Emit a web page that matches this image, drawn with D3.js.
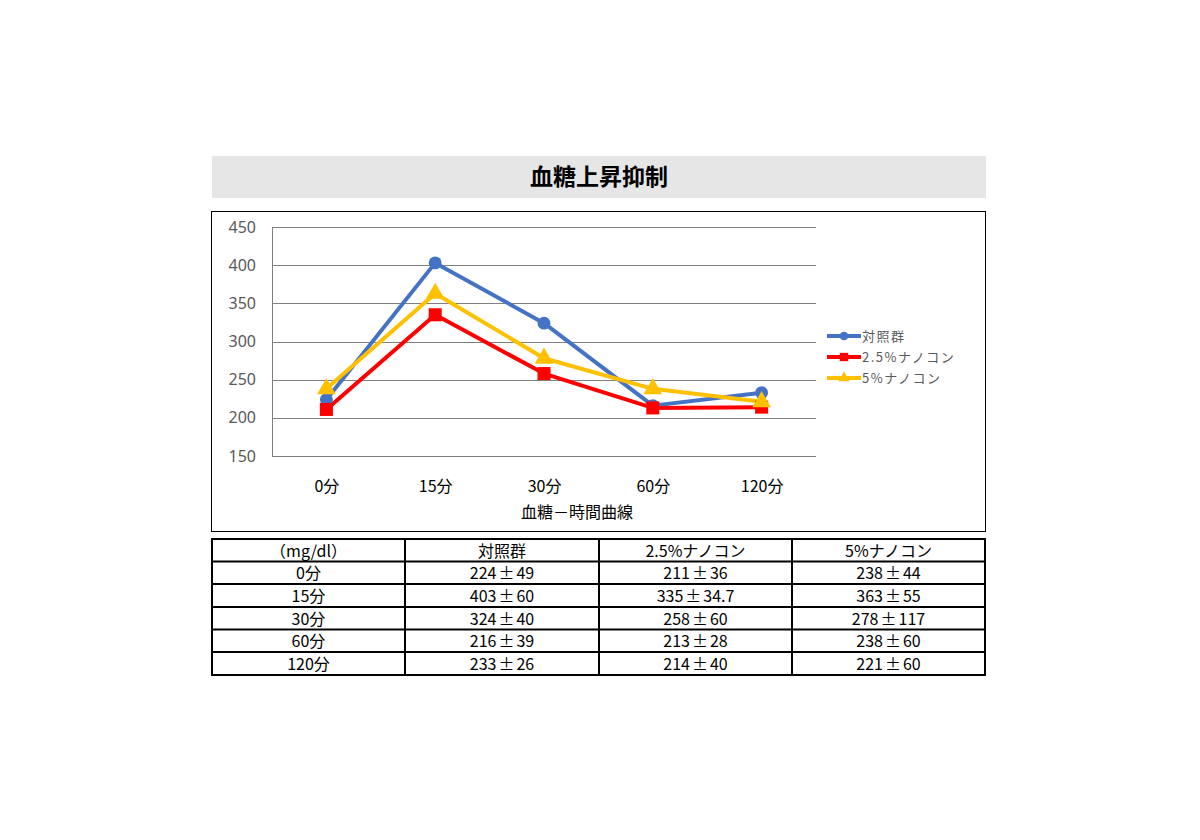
<!DOCTYPE html>
<html><head><meta charset="utf-8">
<script src="https://cdn.jsdelivr.net/npm/d3@7"></script>
<style>body{margin:0;background:#fff;} text{font-family:"Noto Sans CJK JP","Noto Sans",sans-serif;}</style>
</head><body>
<svg id="c" width="1200" height="840"></svg>
<script>
const categories = ["0分","15分","30分","60分","120分"];
const seriesNames = ["対照群","2.5%ナノコン","5%ナノコン"];
const controlMean = [224,403,324,216,233];
const controlSD = ["49","60","40","39","26"];
const nano25Mean = [211,335,258,213,214];
const nano25SD = ["36","34.7","60","28","40"];
const nano5Mean = [238,363,278,238,221];
const nano5SD = ["44","55","117","60","60"];
const yTicks = [150,200,250,300,350,400,450];
const title = "血糖上昇抑制";
const xTitle = "血糖－時間曲線";
const unitLabel = "（mg/dl）";

const colors = ["#4472C4","#FF0000","#FFC000"];
const shapes = [d3.symbolCircle, d3.symbolSquare, d3.symbolTriangle];
const means = [controlMean, nano25Mean, nano5Mean];
const sds = [controlSD, nano25SD, nano5SD];

const svg = d3.select("#c");
// title box
svg.append("rect").attr("x",212).attr("y",156).attr("width",774).attr("height",42).attr("fill","#e6e6e6");
svg.append("text").attr("x",599).attr("y",177).attr("dy","0.35em").attr("text-anchor","middle")
  .attr("font-size",23).attr("font-weight","bold").attr("fill","#000").text(title);
// chart frame
svg.append("rect").attr("x",211.5).attr("y",211.5).attr("width",774).attr("height",320).attr("fill","none").attr("stroke","#000").attr("stroke-width",1);

const x = d3.scalePoint().domain(categories).range([272,816]).padding(0.5);
const y = d3.scaleLinear().domain([150,450]).range([456,227]);

// gridlines
const g = svg.append("g");
g.selectAll("line.grid").data(yTicks).join("line")
  .attr("x1",272).attr("x2",816).attr("y1",d=>Math.round(y(d))+0.5).attr("y2",d=>Math.round(y(d))+0.5)
  .attr("stroke","#808080").attr("stroke-width",1);
g.append("line").attr("x1",272.5).attr("x2",272.5).attr("y1",y(450)).attr("y2",y(150)+0.5).attr("stroke","#808080");

// y axis labels
const yAxis = d3.axisLeft(y).tickValues(yTicks).tickSize(0).tickPadding(0);
const ya = svg.append("g").attr("transform","translate(256,0)").call(yAxis);
ya.select(".domain").remove();
ya.selectAll("text").attr("font-size",16).attr("fill","#595959").style("font-family","'Noto Sans','DejaVu Sans',sans-serif");

// x axis labels
const xAxis = d3.axisBottom(x).tickSize(0).tickPadding(0);
const xa = svg.append("g").attr("transform","translate(0,481)").call(xAxis);
xa.select(".domain").remove();
xa.selectAll("text").attr("font-size",16).attr("fill","#000");

svg.append("text").attr("x",577).attr("y",512).attr("dy","0.35em").attr("text-anchor","middle")
  .attr("font-size",16).attr("fill","#000").text(xTitle);

// series
const line = d3.line().x((d,i)=>x(categories[i])).y(d=>y(d));
means.forEach((m,si)=>{
  svg.append("path").datum(m).attr("d",line).attr("fill","none").attr("stroke",colors[si]).attr("stroke-width",4).attr("stroke-linejoin","round");
});
means.forEach((m,si)=>{
  const size = si===0?130:(si===1?170:150);
  svg.selectAll(null).data(m).join("path")
    .attr("transform",(d,i)=>`translate(${x(categories[i])},${y(d)})`)
    .attr("d",d3.symbol().type(shapes[si]).size(size)).attr("fill",colors[si]);
});

// legend
const legY = [336,357,378];
seriesNames.forEach((n,si)=>{
  const lg = svg.append("g").attr("transform",`translate(827,${legY[si]})`);
  lg.append("line").attr("x1",0).attr("x2",34).attr("y1",0).attr("y2",0).attr("stroke",colors[si]).attr("stroke-width",4);
  lg.append("path").attr("transform","translate(17,0)").attr("d",d3.symbol().type(shapes[si]).size(si===0?60:(si===1?70:55))).attr("fill",colors[si]);
  lg.append("text").attr("x",35).attr("y",0).attr("dy","0.35em").attr("font-size",13).attr("letter-spacing",1.5).attr("fill","#595959").text(n);
});

// table
const colX = [212,405,599,792,985];
const rowY = [539,561.5,584,607,629.5,652,675];
const header = [unitLabel, ...seriesNames];
const tg = svg.append("g");
function cellText(xc, yc, parts){
  const t = tg.append("text").attr("x",xc).attr("y",yc).attr("dy","0.35em").attr("text-anchor","middle")
    .attr("font-size",16).attr("fill","#000");
  parts.forEach((p,i)=>{ t.append("tspan").attr("dx", i>0?2:0).text(p); });
}
header.forEach((h,ci)=>cellText((colX[ci]+colX[ci+1])/2,(rowY[0]+rowY[1])/2+1,[h]));
categories.forEach((c,i)=>{
  const yc = (rowY[i+1]+rowY[i+2])/2+1;
  cellText((colX[0]+colX[1])/2, yc, [c]);
  means.forEach((m,si)=>{
    cellText((colX[si+1]+colX[si+2])/2, yc, [String(m[i]),"±",sds[si][i]]);
  });
});
rowY.forEach(yy=>{
  tg.append("line").attr("x1",colX[0]-1).attr("x2",colX[4]+1).attr("y1",yy).attr("y2",yy).attr("stroke","#000").attr("stroke-width",2);
});
colX.forEach(xx=>{
  tg.append("line").attr("x1",xx).attr("x2",xx).attr("y1",rowY[0]).attr("y2",rowY[6]).attr("stroke","#000").attr("stroke-width",2);
});
</script>
</body></html>
